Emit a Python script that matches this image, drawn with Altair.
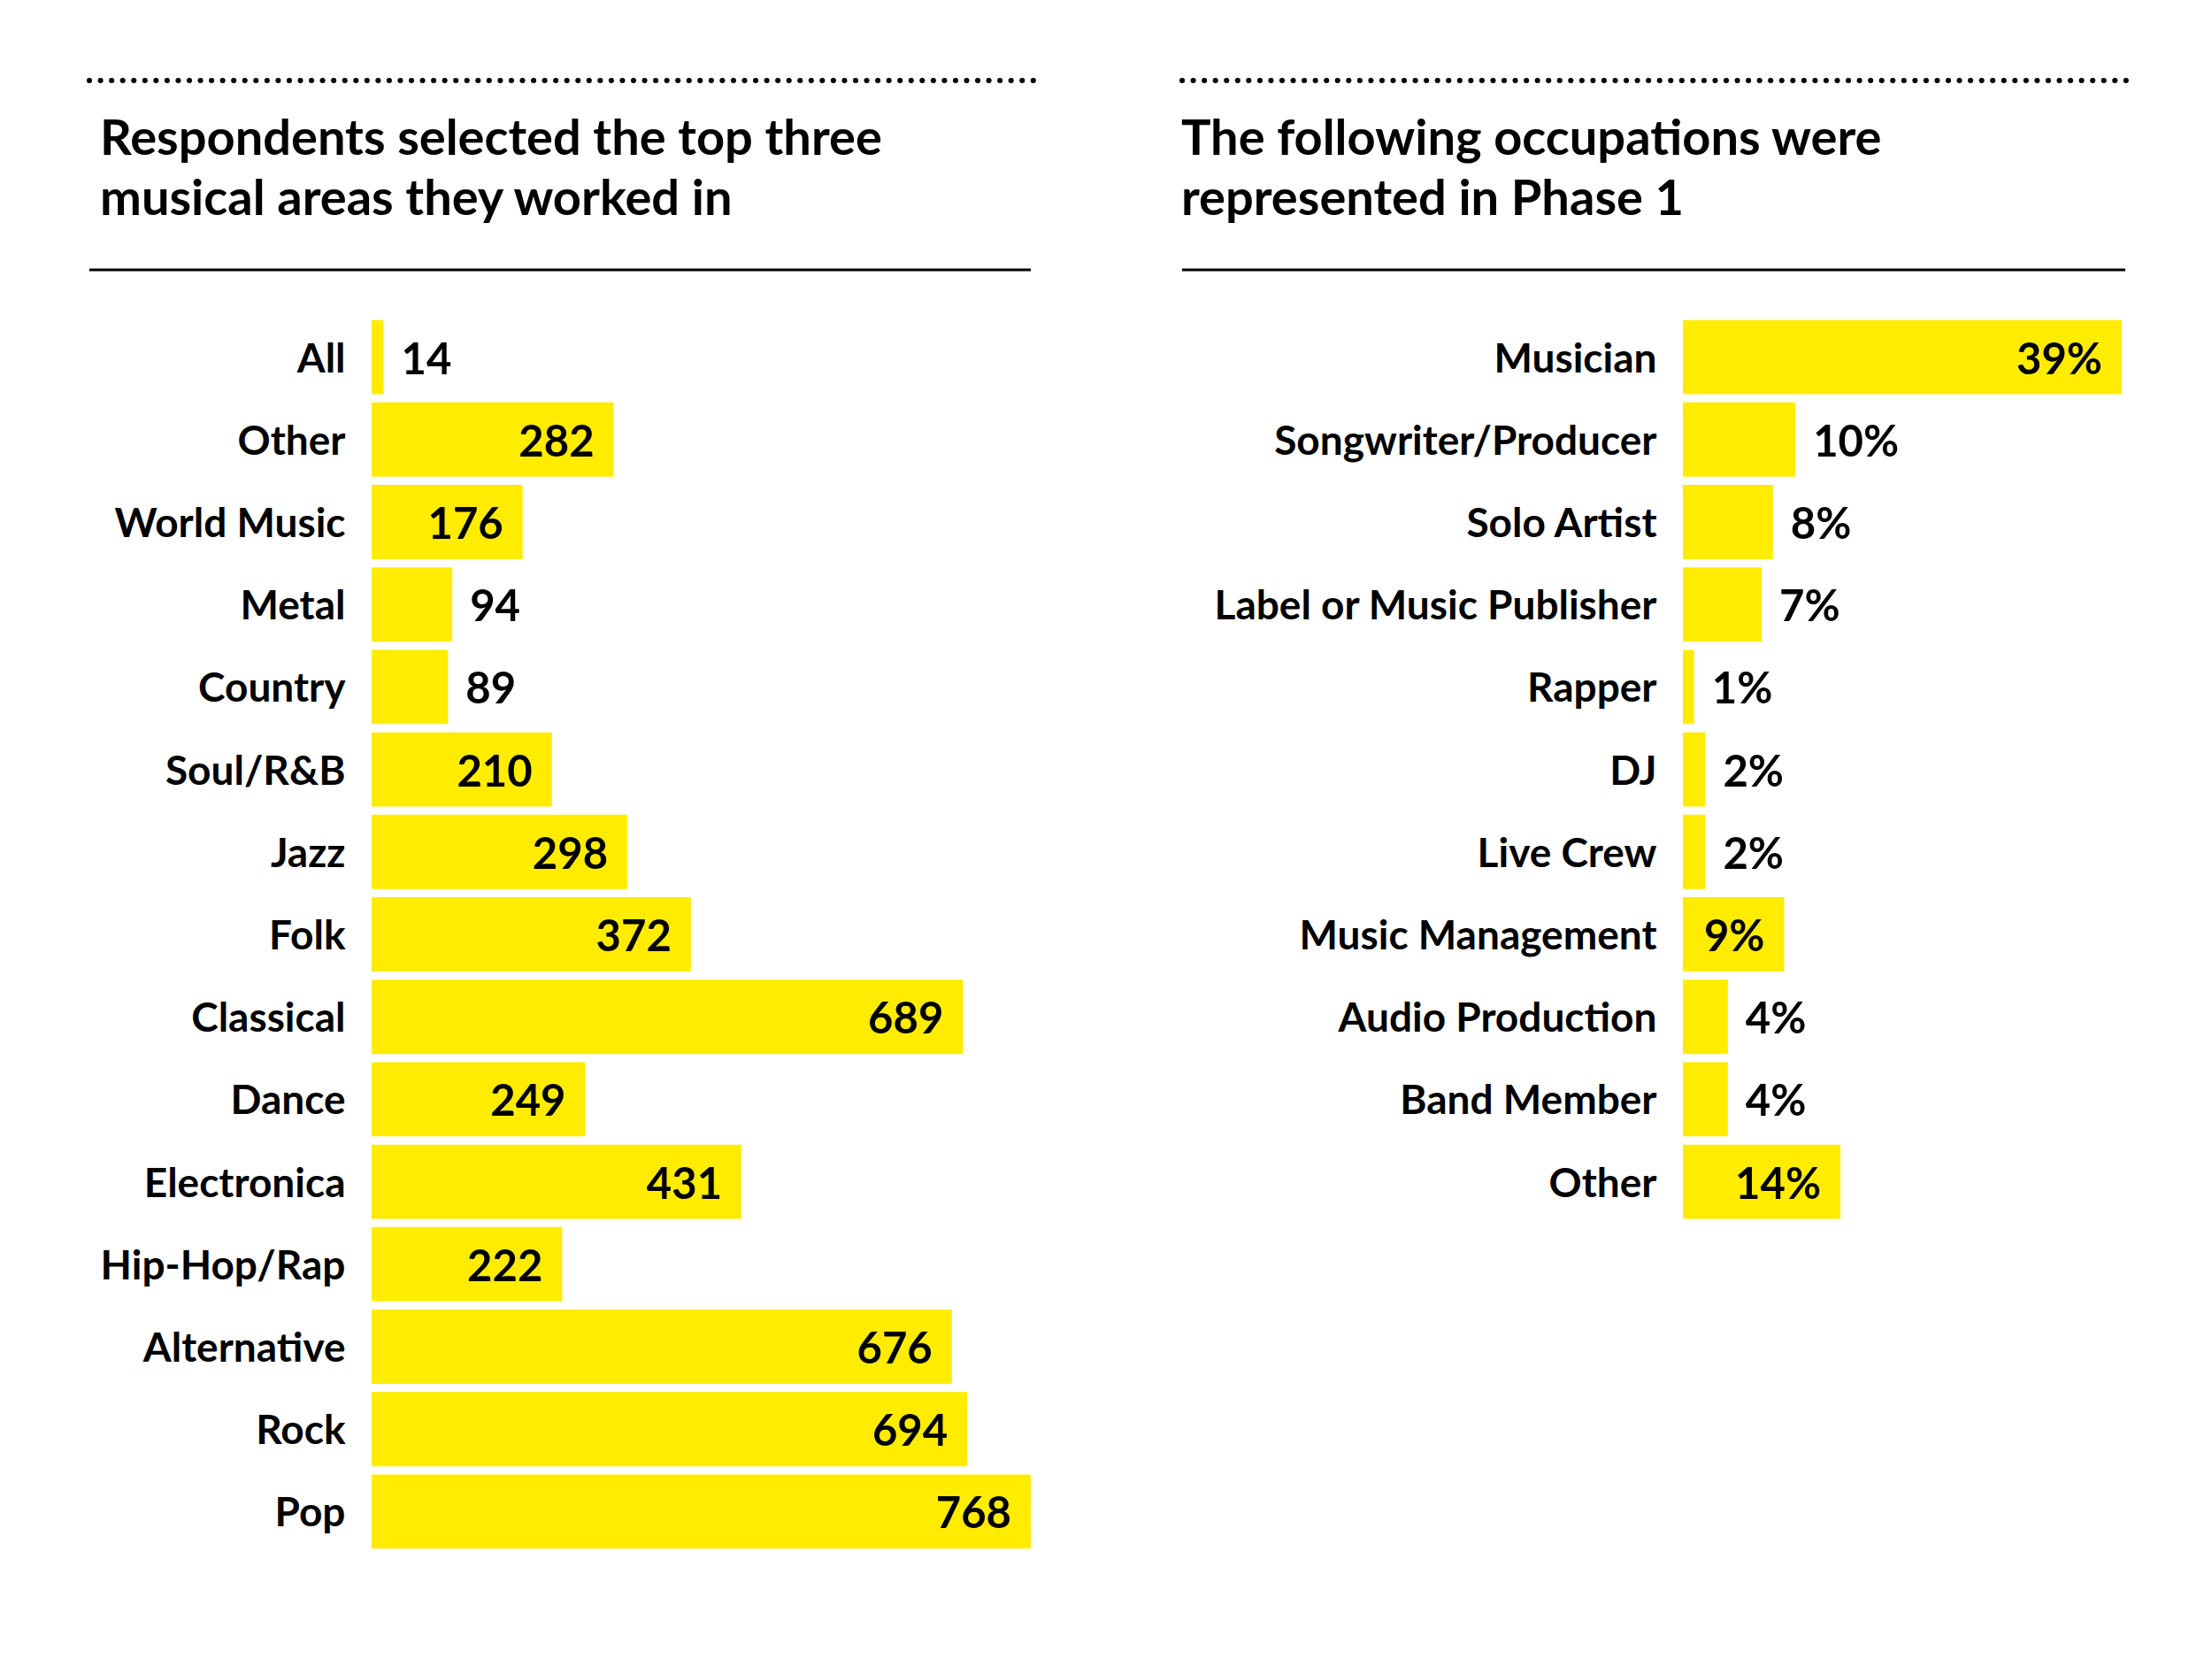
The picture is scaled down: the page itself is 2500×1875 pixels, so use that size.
import json
import altair as alt
import pandas as pd

# ---- data ----
genres = ["All", "Other", "World Music", "Metal", "Country", "Soul/R&B", "Jazz", "Folk",
          "Classical", "Dance", "Electronica", "Hip-Hop/Rap", "Alternative", "Rock", "Pop"]
genre_counts = [14, 282, 176, 94, 89, 210, 298, 372, 689, 249, 431, 222, 676, 694, 768]

occupations = ["Musician", "Songwriter/Producer", "Solo Artist", "Label or Music Publisher",
               "Rapper", "DJ", "Live Crew", "Music Management", "Audio Production",
               "Band Member", "Other"]
occupation_pct = [39, 10, 8, 7, 1, 2, 2, 9, 4, 4, 14]
occupations_label_inside = ["Musician", "Music Management", "Other"]

left_title = ["Respondents selected the top three", "musical areas they worked in"]
right_title = ["The following occupations were", "represented in Phase 1"]

# ---- style ----
YELLOW = "#FFEC00"
FONT = "Lato"
STEP = 93.2

left_df = pd.DataFrame({"cat": genres, "val": genre_counts})
left_df["label"] = left_df["val"].astype(str)
right_df = pd.DataFrame({"cat": occupations, "val": occupation_pct})
right_df["label"] = right_df["val"].astype(str) + "%"


def panel(df, domain_max, width, inside_test, title_lines, rule_x, rule_x2, dot_x2, title_x):
    base = alt.Chart(df)
    y = alt.Y("cat:N", sort=None, title=None,
              scale=alt.Scale(paddingInner=0.1, paddingOuter=0.05),
              axis=alt.Axis(domain=False, ticks=False, grid=False, labelPadding=30,
                            labelOffset=3,
                            labelFontSize=46, labelFont=FONT, labelFontWeight="bold",
                            labelColor="black", labelLimit=0))
    x = alt.X("val:Q", scale=alt.Scale(domain=[0, domain_max]), axis=None)
    bars = base.mark_bar(color=YELLOW).encode(y=y, x=x)
    txt = dict(font=FONT, fontSize=49, fontWeight="bold", color="black", baseline="middle", dy=4)
    inside = base.transform_filter(inside_test).mark_text(align="right", dx=-22, **txt).encode(
        y=y, x=x, text="label:N")
    outside = base.transform_filter(f"!({inside_test})").mark_text(align="left", dx=20, **txt).encode(
        y=y, x=x, text="label:N")
    deco = alt.Chart(pd.DataFrame({"k": [0]}))
    dotted = deco.mark_rule(color="black", strokeWidth=6, strokeCap="round",
                            strokeDash=[0.1, 12.45]).encode(
        x=alt.value(rule_x), x2=alt.value(dot_x2), y=alt.value(-266))
    solid = deco.mark_rule(color="black", strokeWidth=3).encode(
        x=alt.value(rule_x), x2=alt.value(rule_x2), y=alt.value(-52))
    title = deco.mark_text(align="left", baseline="alphabetic", fontSize=56, fontWeight="bold",
                           lineHeight=68, font=FONT, color="black").encode(
        x=alt.value(title_x), y=alt.value(-182), text=alt.value(title_lines))
    return alt.layer(bars, inside, outside, dotted, solid, title).properties(
        width=width, height=alt.Step(STEP))


left = panel(left_df, 768, 745, "datum.val >= 150", left_title, -319, 745, 754, -307)
right_inside = "indexof(" + json.dumps(occupations_label_inside) + ", datum.cat) >= 0"
right = panel(right_df, 39, 496, right_inside, right_title, -566, 500, 509, -567)

chart = alt.hconcat(left, right, spacing=737, bounds="flush").properties(
    padding={"left": 90, "top": 80, "right": 20, "bottom": 20},
    background="white",
).configure_view(stroke=None, strokeWidth=0)

chart.save("out.html", embed_options={"renderer": "svg", "actions": False})
